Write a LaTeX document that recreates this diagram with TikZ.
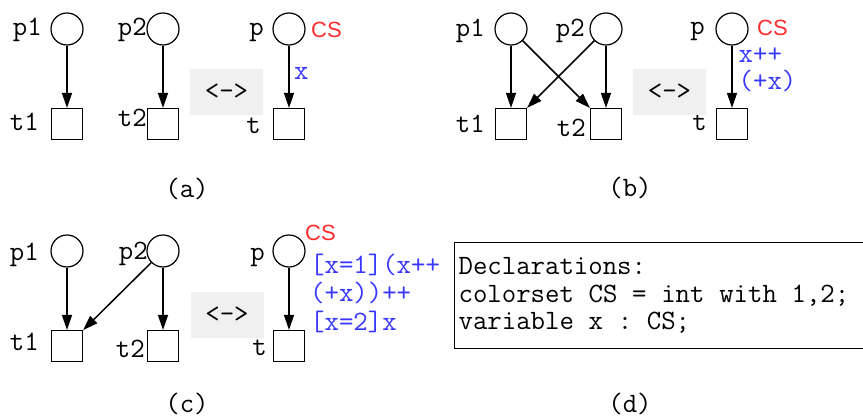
\documentclass[tikz,border=0pt]{standalone}
\usepackage{fontspec}
\newfontfamily\sortfont{Liberation Sans}
\usetikzlibrary{arrows.meta}
\definecolor{sortred}{RGB}{255,45,45}
\definecolor{inscblue}{RGB}{55,55,255}
\definecolor{swapgray}{RGB}{240,240,240}
% typewriter text, and a blank exactly one character wide
\newcommand{\monotext}[2]{\ttfamily\fontsize{#1}{#2}\selectfont}
\newcommand{\blankchar}{\hspace*{0.525em}}

\begin{document}
\begin{tikzpicture}[x=1pt, y=-1pt,
		place/.style={draw, circle, line width=1.2pt, minimum size=32pt, inner sep=0pt},
		transition/.style={draw, rectangle, line width=1.2pt, minimum size=31pt, inner sep=0pt},
		lbl/.style={inner sep=0pt, font=\monotext{28}{28}},
		sortlbl/.style={inner sep=0pt, text=sortred, font=\sortfont\fontsize{22}{22}\selectfont},
		insc/.style={inner sep=0pt, text=inscblue, font=\monotext{28}{28}},
		swap/.style={fill=swapgray, minimum width=73pt, minimum height=46pt, inner sep=0pt, font=\monotext{28}{28}},
		flow/.style={-{Triangle[length=15pt,width=10pt]}, line width=1.5pt}]
	\useasboundingbox (0,0) rectangle (863,420);
	% (a) two unconnected nets <-> one coloured net
	\node[place] (p1a) at (67,29) {};
	\node[place] (p2a) at (163,29) {};
	\node[place] (pa) at (289,29) {};
	\node[transition] (t1a) at (67,124) {};
	\node[transition] (t2a) at (163,124) {};
	\node[transition] (ta) at (289,124) {};
	\node[lbl, anchor=base east] at (42,36) {p1};
	\node[lbl, anchor=base east] at (147,36) {p2};
	\node[lbl, anchor=base east] at (264,36) {p};
	\node[lbl, anchor=base east] at (39,130) {t1};
	\node[lbl, anchor=base east] at (147,127) {t2};
	\node[lbl, anchor=base east] at (261,133) {t};
	\node[sortlbl, anchor=base west] at (311,38) {CS};
	\node[insc, anchor=base west] at (294,80) {x};
	\node[swap] (swapa) at (226.5,92) {<->};
	\draw[flow] (p1a) -- (t1a);
	\draw[flow] (p2a) -- (t2a);
	\draw[flow] (pa) -- (ta);
	\node[lbl] (capa) at (187,189) {(a)};

	% (b) crossed arcs
	\node[place] (p1b) at (511,29) {};
	\node[place] (p2b) at (606,29) {};
	\node[place] (pb) at (732,29) {};
	\node[transition] (t1b) at (511,124) {};
	\node[transition] (t2b) at (606,124) {};
	\node[transition] (tb) at (732,124) {};
	\node[lbl, anchor=base east] at (485,37) {p1};
	\node[lbl, anchor=base east] at (585,37) {p2};
	\node[lbl, anchor=base east] at (705,35) {p};
	\node[lbl, anchor=base east] at (485,132) {t1};
	\node[lbl, anchor=base east] at (586,136) {t2};
	\node[lbl, anchor=base east] at (707,131) {t};
	\node[sortlbl, anchor=base west] at (757,36) {CS};
	\node[insc, anchor=base west] at (738.5,63) {x++};
	\node[insc, anchor=base west] at (738.5,90) {(+x)};
	\node[swap] (swapb) at (669.5,92) {<->};
	\draw[flow] (p1b) -- (t1b);
	\draw[flow] (p1b) -- (t2b);
	\draw[flow] (p2b) -- (t1b);
	\draw[flow] (p2b) -- (t2b);
	\draw[flow] (pb) -- (tb);
	\node[lbl] (capb) at (630,188) {(b)};

	% (c) p2 feeds both transitions
	\node[place] (p1c) at (67,251) {};
	\node[place] (p2c) at (163,251) {};
	\node[place] (pc) at (289,251) {};
	\node[transition] (t1c) at (67,346) {};
	\node[transition] (t2c) at (163,346) {};
	\node[transition] (tc) at (289,346) {};
	\node[lbl, anchor=base east] at (39,260) {p1};
	\node[lbl, anchor=base east] at (148,259) {p2};
	\node[lbl, anchor=base east] at (265,260) {p};
	\node[lbl, anchor=base east] at (39,350) {t1};
	\node[lbl, anchor=base east] at (145,357) {t2};
	\node[lbl, anchor=base east] at (267,355) {t};
	\node[sortlbl, anchor=base west] at (305,240) {CS};
	\node[insc, anchor=base west] at (310,273) {[x=1](x++};
	\node[insc, anchor=base west] at (310,301.5) {(+x))++};
	\node[insc, anchor=base west] at (310,330) {[x=2]x};
	\node[swap] (swapc) at (227,314.5) {<->};
	\draw[flow] (p1c) -- (t1c);
	\draw[flow] (p2c) -- (t1c);
	\draw[flow] (p2c) -- (t2c);
	\draw[flow] (pc) -- (tc);
	\node[lbl] (capc) at (187,404) {(c)};

	% (d) declarations
	\node[draw, line width=1.2pt, anchor=north west, minimum width=412pt, minimum height=106pt,
		inner xsep=2.5pt, inner ysep=0pt, text width=404pt, align=left,
		font=\monotext{28}{27.5}] (decl) at (454,242)
		{Declarations:\\
		colorset\blankchar CS\blankchar =\blankchar int\blankchar with\blankchar 1,2;\\
		variable\blankchar x\blankchar :\blankchar CS;};
	\node[lbl] (capd) at (630,404) {(d)};
\end{tikzpicture}
\end{document}
